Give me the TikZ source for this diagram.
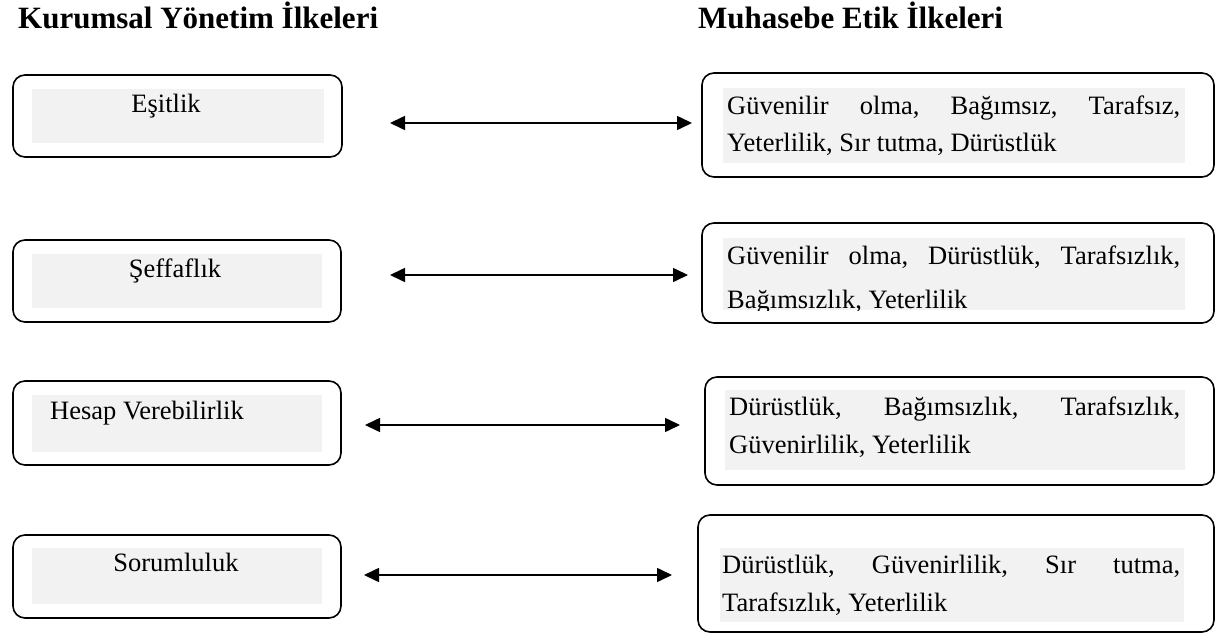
\documentclass[tikz,border=0pt]{standalone}
\usepackage{fontspec}
\setmainfont{Liberation Serif}
\usetikzlibrary{arrows.meta}
\definecolor{graybg}{HTML}{F2F2F2}
\begin{document}
\begin{tikzpicture}[x=1pt,y=-1pt,
  box/.style={draw, line width=1.6pt, rounded corners=12pt, inner sep=0pt},
  txt/.style={font=\fontsize{26.5}{30}\selectfont, inner sep=0pt},
  ttl/.style={font=\fontsize{31}{36}\selectfont\bfseries, inner sep=0pt, anchor=base west},
  biarr/.style={{Triangle[length=15pt,width=14pt]}-{Triangle[length=15pt,width=14pt]}, line width=1.6pt}]
\useasboundingbox (0,0) rectangle (1216,639);

% titles
\node[ttl] (t1) at (18,29) {Kurumsal Yönetim İlkeleri};
\node[ttl] (t2) at (698,29) {Muhasebe Etik İlkeleri};

% left boxes
\fill[graybg] (32,89) rectangle (324,143);
\node[box, minimum width=329pt, minimum height=82pt] (L1) at (177.5,116) {};
\node[txt, anchor=base] (L1t) at (166,113) {Eşitlik};

\fill[graybg] (32,254) rectangle (322,308);
\node[box, minimum width=328pt, minimum height=82pt] (L2) at (177,281) {};
\node[txt, anchor=base] (L2t) at (175,278) {Şeffaflık};

\fill[graybg] (32,395) rectangle (322,452);
\node[box, minimum width=328pt, minimum height=84pt] (L3) at (177,423) {};
\node[txt, anchor=base west] (L3t) at (50,419) {Hesap Verebilirlik};

\fill[graybg] (32,548) rectangle (322,604);
\node[box, minimum width=328pt, minimum height=83pt] (L4) at (177,576.5) {};
\node[txt, anchor=base] (L4t) at (176,571) {Sorumluluk};

% right boxes
\fill[graybg] (723,88) rectangle (1185,163);
\node[box, minimum width=512pt, minimum height=104pt] (R1) at (958,125) {};
\node[txt, anchor=base west] (R1a) at (727,115) {\hbox to 453pt{Güvenilir\hfill olma,\hfill Bağımsız,\hfill Tarafsız,}};
\node[txt, anchor=base west] (R1b) at (727,152) {Yeterlilik, Sır tutma, Dürüstlük};

\fill[graybg] (723,238) rectangle (1185,310);
\node[box, minimum width=512pt, minimum height=100pt] (R2) at (958,273) {};
\node[txt, anchor=base west] (R2a) at (727,265) {\hbox to 453pt{Güvenilir\hfill olma,\hfill Dürüstlük,\hfill Tarafsızlık,}};
\begin{scope}
\clip (723,238) rectangle (1185,310);
\node[txt, anchor=base west] (R2b) at (727,308.5) {Bağımsızlık, Yeterlilik};
\end{scope}

\fill[graybg] (725,390) rectangle (1185,470);
\node[box, minimum width=509pt, minimum height=108pt] (R3) at (959.5,431) {};
\node[txt, anchor=base west] (R3a) at (729,415) {\hbox to 451pt{Dürüstlük,\hfill Bağımsızlık,\hfill Tarafsızlık,}};
\node[txt, anchor=base west] (R3b) at (729,453) {Güvenirlilik, Yeterlilik};

\fill[graybg] (720,548) rectangle (1184,622);
\node[box, minimum width=516pt, minimum height=117pt] (R4) at (956,573.5) {};
\node[txt, anchor=base west] (R4a) at (722,573) {\hbox to 458pt{Dürüstlük,\hfill Güvenirlilik,\hfill Sır\hfill tutma,}};
\node[txt, anchor=base west] (R4b) at (722,611) {Tarafsızlık, Yeterlilik};

% arrows
\coordinate (a1l) at (390,123); \coordinate (a1r) at (692,123);
\coordinate (a2l) at (390,275); \coordinate (a2r) at (688,275);
\coordinate (a3l) at (365,425); \coordinate (a3r) at (680,425);
\coordinate (a4l) at (364,575); \coordinate (a4r) at (672,575);
\draw[biarr] (a1l) -- (a1r);
\draw[biarr] (a2l) -- (a2r);
\draw[biarr] (a3l) -- (a3r);
\draw[biarr] (a4l) -- (a4r);
\end{tikzpicture}
\end{document}
